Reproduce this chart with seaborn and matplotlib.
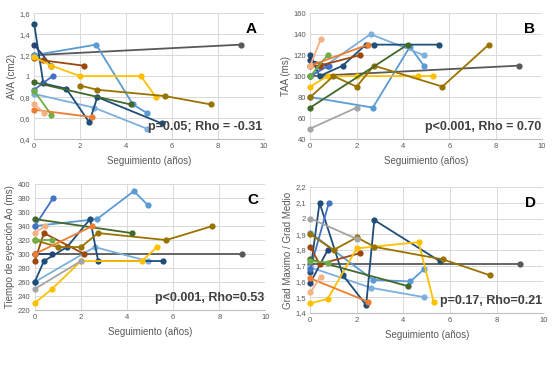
import numpy as np
import pandas as pd
import matplotlib
matplotlib.use('Agg')
import matplotlib.pyplot as plt
import seaborn as sns
from matplotlib.ticker import FuncFormatter

sns.set_style('white')
plt.rcParams['font.family'] = ['Liberation Sans', 'DejaVu Sans']

# seguimiento (años) por paciente y valores de cada panel
pacientes = ['gris_osc', 'azul_claro', 'azul_palido', 'marino', 'marino2', 'azul_medio',
             'marron', 'amarillo', 'oliva', 'verde_osc', 'verde', 'naranja', 'naranja_cl', 'gris']
colores = ['#595959', '#5B9BD5', '#7CAFDD', '#1F4E79', '#264478', '#4472C4',
           '#9E480E', '#FFC000', '#997300', '#43682B', '#70AD47', '#ED7D31', '#F4B183', '#A5A5A5']

t_gris_osc = [0, 9]
t_azul_claro = [0, 2.7, 4.3, 4.9]
t_azul_palido = [0, 2.6, 4.9]
t_marino = [0, 0.4, 1.4, 2.4, 2.75, 5.55]
t_marino2 = [0, 0.75]
t_azul_medio = [0, 0.8]
t_marron = [0, 0.4, 2.15]
t_amarillo = [0, 0.75, 2, 4.65, 5.3]
t_oliva = [0, 1, 2, 2.75, 5.7, 7.7]
t_verde_osc = [0, 4.2]
t_verde = [0, 0.75]
t_naranja = [0, 2.5]
t_naranja_cl = [0, 0.45]
t_gris = [0, 2]

# A: AVA (cm2)
ava = {
    'gris_osc': [1.2, 1.3], 'azul_claro': [1.2, 1.3, 0.73, 0.65], 'azul_palido': [0.83, 0.7, 0.5],
    'marino': [1.5, 0.93, 0.88, 0.56, 0.8, 0.55], 'marino2': [1.3, 1.1], 'azul_medio': [0.87, 1.0],
    'marron': [1.17, 1.15, 1.1], 'amarillo': [1.18, 1.1, 1.0, 1.0, 0.8],
    'oliva': [np.nan, np.nan, 0.91, 0.87, 0.81, 0.73], 'verde_osc': [0.94, 0.73],
    'verde': [0.86, 0.63], 'naranja': [0.68, 0.61], 'naranja_cl': [0.73, 0.65], 'gris': [np.nan, np.nan],
}
# B: TAA (ms)
taa = {
    'gris_osc': [100, 110], 'azul_claro': [80, 70, 128, 110], 'azul_palido': [100, 140, 120],
    'marino': [120, 100, 110, 130, 130, 130], 'marino2': [115, 110], 'azul_medio': [100, 110],
    'marron': [110, 110, 120], 'amarillo': [90, 100, 100, 100, 100],
    'oliva': [80, 100, 90, 110, 90, 130], 'verde_osc': [70, 130],
    'verde': [100, 120], 'naranja': [110, 130], 'naranja_cl': [110, 135], 'gris': [50, 70],
}
# C: Tiempo de eyección Ao (ms)
tey = {
    'gris_osc': [300, 300], 'azul_claro': [340, 350, 390, 370], 'azul_palido': [260, 310, 290],
    'marino': [260, 290, 310, 350, 290, 290], 'marino2': [300, 300], 'azul_medio': [340, 380],
    'marron': [290, 330, 300], 'amarillo': [230, 250, 290, 290, 310],
    'oliva': [320, 310, 310, 330, 320, 340], 'verde_osc': [350, 330],
    'verde': [320, 320], 'naranja': [300, 340], 'naranja_cl': [330, 340], 'gris': [250, 290],
}
# D: Grad Maximo / Grad Medio
grad = {
    'gris_osc': [1.71, 1.71], 'azul_claro': [1.91, 1.61, 1.60, 1.68], 'azul_palido': [1.69, 1.56, 1.50],
    'marino': [1.66, 2.1, 1.64, 1.45, 1.99, 1.73], 'marino2': [1.59, 1.8], 'azul_medio': [1.68, 2.1],
    'marron': [1.82, 1.71, 1.78], 'amarillo': [1.46, 1.49, 1.81, 1.85, 1.47],
    'oliva': [1.90, 1.80, 1.88, 1.82, 1.74, 1.64], 'verde_osc': [1.74, 1.57],
    'verde': [1.73, 1.72], 'naranja': [1.62, 1.47], 'naranja_cl': [1.53, 1.63], 'gris': [2.0, 1.87],
}

tiempos = {'gris_osc': t_gris_osc, 'azul_claro': t_azul_claro, 'azul_palido': t_azul_palido,
           'marino': t_marino, 'marino2': t_marino2, 'azul_medio': t_azul_medio, 'marron': t_marron,
           'amarillo': t_amarillo, 'oliva': t_oliva, 'verde_osc': t_verde_osc, 'verde': t_verde,
           'naranja': t_naranja, 'naranja_cl': t_naranja_cl, 'gris': t_gris}

paneles = [
    ('A', ava, 'AVA (cm2)', (0.4, 1.6), np.arange(0.4, 1.61, 0.2), 'p=0.05; Rho = -0.31', 1),
    ('B', taa, 'TAA (ms)', (40, 160), np.arange(40, 161, 20), 'p<0.001, Rho = 0.70', 0),
    ('C', tey, 'Tiempo de eyección Ao (ms)', (220, 400), np.arange(220, 401, 20), 'p<0.001, Rho=0.53', 0),
    ('D', grad, 'Grad Maximo / Grad Medio', (1.4, 2.2), np.arange(1.4, 2.21, 0.1), 'p=0.17, Rho=0.21', 1),
]
posiciones = {'A': [0.061, 0.620, 0.410, 0.344], 'B': [0.554, 0.620, 0.414, 0.344],
              'C': [0.062, 0.153, 0.412, 0.344], 'D': [0.554, 0.145, 0.416, 0.344]}

paleta = dict(zip(pacientes, colores))

fig = plt.figure(figsize=(5.6, 3.66), dpi=100)
for letra, valores, ylabel, ylim, yticks, texto, dec in paneles:
    filas = []
    for p in pacientes:
        for t, v in zip(tiempos[p], valores[p]):
            filas.append({'paciente': p, 't': t, 'v': v})
    df = pd.DataFrame(filas).dropna()

    ax = fig.add_axes(posiciones[letra])
    sns.lineplot(data=df, x='t', y='v', hue='paciente', palette=paleta, hue_order=pacientes,
                 marker='o', markersize=4.5, markeredgewidth=0, linewidth=1.3,
                 estimator=None, sort=False, legend=False, ax=ax)
    for ln in ax.lines:
        ln.set_clip_on(False)
    ax.set_xlim(0, 10)
    ax.set_ylim(*ylim)
    ax.set_xticks(range(0, 11, 2))
    ax.set_yticks(yticks)
    ax.yaxis.set_major_formatter(FuncFormatter(
        lambda v, pos, d=dec: (f'{v:.{d}f}'.rstrip('0').rstrip('.') if d else f'{v:.0f}').replace('.', ',')))
    ax.grid(True, color='#D9D9D9', linewidth=0.7)
    ax.set_axisbelow(True)
    for s in ['top', 'right', 'left']:
        ax.spines[s].set_visible(False)
    ax.spines['bottom'].set_color('#BFBFBF')
    ax.tick_params(axis='both', labelsize=5.5, colors='#595959', length=0, pad=3)
    ax.set_xlabel('Seguimiento (años)', fontsize=7, color='#595959', labelpad=4)
    ax.set_ylabel(ylabel, fontsize=7, color='#595959', labelpad=2)
    ax.text(0.97, 0.93, letra, transform=ax.transAxes, ha='right', va='top',
            fontsize=11, fontweight='bold', color='black')
    ax.text(0.995, 0.045, texto, transform=ax.transAxes, ha='right', va='bottom',
            fontsize=9, fontweight='bold', color='#404040')

fig.savefig('out.png', dpi=100)
